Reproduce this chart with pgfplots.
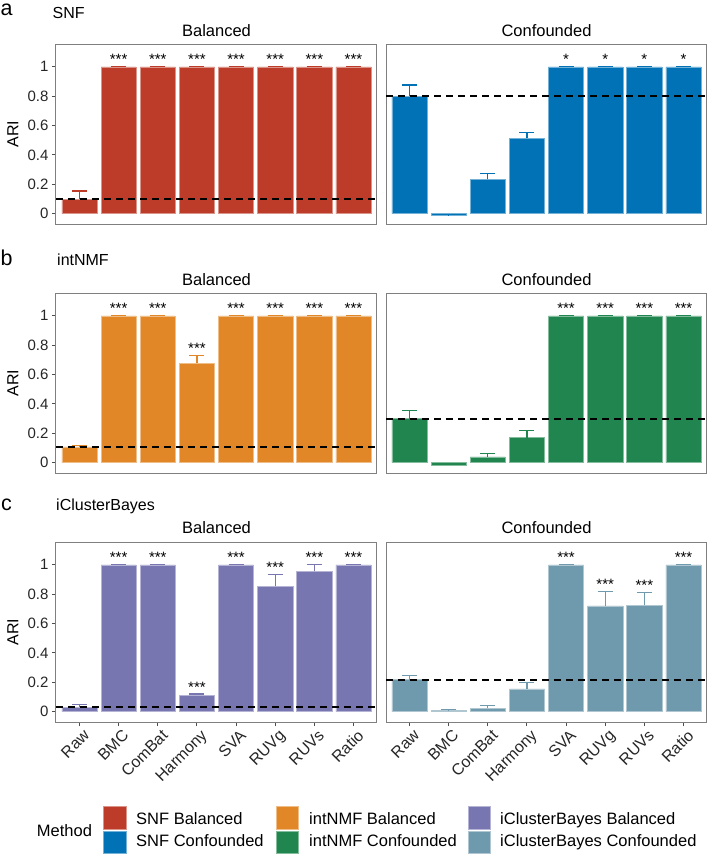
\documentclass[border=0pt]{standalone}
\usepackage{fontspec}
\setmainfont{Liberation Sans}
\usepackage{pgfplots}
\pgfplotsset{compat=1.18}
\definecolor{snfB}{HTML}{BC3C29}
\definecolor{snfC}{HTML}{0072B5}
\definecolor{intB}{HTML}{E18727}
\definecolor{intC}{HTML}{20854E}
\definecolor{icbB}{HTML}{7876B1}
\definecolor{icbC}{HTML}{6F99AD}
\definecolor{frame}{HTML}{7F7F7F}
\definecolor{tickc}{HTML}{4D4D4D}
\newcommand{\fs}[1]{\fontsize{#1}{#1}\selectfont}

\pgfplotsset{
  panel/.style={
    scale only axis, width=321pt, height=180pt, anchor=south west,
    xmin=-0.6, xmax=7.6, ymin=-0.07, ymax=1.155,
    xtick=\empty, ytick=\empty,
    axis line style={draw=frame, line width=1pt},
    tick align=outside, major tick length=4pt,
    tick style={draw=tickc, line width=1pt},
    xtick pos=bottom, ytick pos=left,
    /pgf/number format/assume math mode=true,
    ticklabel style={font=\fs{15}, text=black!85},
    clip=false,
  },
  lefty/.style={ytick={0,0.2,0.4,0.6,0.8,1}, ylabel={ARI},
    every axis y label/.style={at={(axis description cs:-0.134,0.5)}, rotate=90, anchor=center, font=\fs{16}}},
  bottomx/.style={xtick={0,1,2,3,4,5,6,7},
    xticklabels={Raw,BMC,ComBat,Harmony,SVA,RUVg,RUVs,Ratio},
    xticklabel style={xshift=3pt, yshift=-1pt, rotate=45, anchor=north east, inner sep=1pt, font=\fs{16}}},
  bars/.style={ybar, bar width=0.9, fill=#1, draw=#1!55!white, line width=0.5pt,
    error bars/y dir=plus, error bars/y explicit,
    error bars/error bar style={draw=#1, line width=1.3pt},
    error bars/error mark options={rotate=90, mark size=7.5pt, draw=#1, line width=1.3pt}},
  ref/.style={black, line width=1.8pt, dash pattern=on 7pt off 5pt},
  stars/.style={draw=none, mark=none, nodes near coords, point meta=explicit symbolic,
    every node near coord/.append style={font=\fs{15}, anchor=base, yshift=2pt, inner sep=0pt, text=black}},
}

\begin{document}
\begin{tikzpicture}
\useasboundingbox (0,0) rectangle (708pt,-855pt);

% ---- row labels and strips
\node[anchor=base west, font=\fs{21.5}, inner sep=0pt] at (0.5pt,-15pt) {a};
\node[anchor=base west, font=\fs{16}, inner sep=0pt] at (52.5pt,-18.7pt) {SNF};
\node[anchor=base west, font=\fs{21.5}, inner sep=0pt] at (0.5pt,-265pt) {b};
\node[anchor=base west, font=\fs{16}, inner sep=0pt] at (57pt,-265pt) {intNMF};
\node[anchor=base west, font=\fs{21.5}, inner sep=0pt] at (1pt,-510pt) {c};
\node[anchor=base west, font=\fs{16}, inner sep=0pt] at (56pt,-510pt) {iClusterBayes};
\foreach \yb in {36,285,533.3}{
  \node[anchor=base, font=\fs{16.5}, inner sep=0pt] at (216.5pt,-\yb pt) {Balanced};
  \node[anchor=base, font=\fs{16.5}, inner sep=0pt] at (546.5pt,-\yb pt) {Confounded};
}

% ---- row a: SNF
\begin{axis}[panel, lefty, at={(56pt,-224pt)}]
\addplot[bars=snfB] coordinates {(0,0.098) +- (0,0.056) (1,1) +- (0,0.003) (2,1) +- (0,0.003) (3,1) +- (0,0.003)
  (4,1) +- (0,0.003) (5,1) +- (0,0.003) (6,1) +- (0,0.003) (7,1) +- (0,0.003)};
\addplot[ref] coordinates {(-0.6,0.098) (7.6,0.098)};
\addplot[stars] coordinates {(1,1.003)[***] (2,1.003)[***] (3,1.003)[***] (4,1.003)[***] (5,1.003)[***] (6,1.003)[***] (7,1.003)[***]};
\end{axis}
\begin{axis}[panel, at={(386pt,-224pt)}]
\addplot[bars=snfC] coordinates {(0,0.80) +- (0,0.075) (1,-0.012) +- (0,0.006) (2,0.234) +- (0,0.038) (3,0.513) +- (0,0.04)
  (4,1) +- (0,0.003) (5,1) +- (0,0.003) (6,1) +- (0,0.003) (7,1) +- (0,0.003)};
\addplot[ref] coordinates {(-0.6,0.80) (7.6,0.80)};
\addplot[stars] coordinates {(4,1.003)[*] (5,1.003)[*] (6,1.003)[*] (7,1.003)[*]};
\end{axis}

% ---- row b: intNMF
\begin{axis}[panel, lefty, at={(56pt,-473pt)}]
\addplot[bars=intB] coordinates {(0,0.107) +- (0,0.008) (1,1) +- (0,0.003) (2,1) +- (0,0.003) (3,0.677) +- (0,0.053)
  (4,1) +- (0,0.003) (5,1) +- (0,0.003) (6,1) +- (0,0.003) (7,1) +- (0,0.003)};
\addplot[ref] coordinates {(-0.6,0.107) (7.6,0.107)};
\addplot[stars] coordinates {(1,1.003)[***] (2,1.003)[***] (3,0.730)[***] (4,1.003)[***] (5,1.003)[***] (6,1.003)[***] (7,1.003)[***]};
\end{axis}
\begin{axis}[panel, at={(386pt,-473pt)}]
\addplot[bars=intC] coordinates {(0,0.30) +- (0,0.057) (1,-0.015) +- (0,0.006) (2,0.039) +- (0,0.022) (3,0.17) +- (0,0.05)
  (4,1) +- (0,0.003) (5,1) +- (0,0.003) (6,1) +- (0,0.003) (7,1) +- (0,0.003)};
\addplot[ref] coordinates {(-0.6,0.30) (7.6,0.30)};
\addplot[stars] coordinates {(4,1.003)[***] (5,1.003)[***] (6,1.003)[***] (7,1.003)[***]};
\end{axis}

% ---- row c: iClusterBayes
\begin{axis}[panel, lefty, bottomx, at={(56pt,-722pt)}]
\addplot[bars=icbB] coordinates {(0,0.032) +- (0,0.018) (1,1) +- (0,0.003) (2,1) +- (0,0.003) (3,0.111) +- (0,0.009)
  (4,1) +- (0,0.003) (5,0.855) +- (0,0.077) (6,0.955) +- (0,0.045) (7,1) +- (0,0.003)};
\addplot[ref] coordinates {(-0.6,0.032) (7.6,0.032)};
\addplot[stars] coordinates {(1,1.003)[***] (2,1.003)[***] (3,0.120)[***] (4,1.003)[***] (5,0.932)[***] (6,1.0)[***] (7,1.003)[***]};
\end{axis}
\begin{axis}[panel, bottomx, at={(386pt,-722pt)}]
\addplot[bars=icbC] coordinates {(0,0.218) +- (0,0.027) (1,0.011) +- (0,0.004) (2,0.025) +- (0,0.018) (3,0.156) +- (0,0.044)
  (4,1) +- (0,0.003) (5,0.72) +- (0,0.10) (6,0.725) +- (0,0.085) (7,1) +- (0,0.003)};
\addplot[ref] coordinates {(-0.6,0.218) (7.6,0.218)};
\addplot[stars] coordinates {(4,1.003)[***] (5,0.82)[***] (6,0.81)[***] (7,1.003)[***]};
\end{axis}

% ---- legend
\node[anchor=base west, font=\fs{16.5}, inner sep=0pt] at (36.7pt,-836.7pt) {Method};
\foreach \kx/\tx/\ca/\cb/\la/\lb in {103.3/136/snfB/snfC/SNF Balanced/SNF Confounded,
    276/309/intB/intC/intNMF Balanced/intNMF Confounded,
    468/500/icbB/icbC/iClusterBayes Balanced/iClusterBayes Confounded}{
  \filldraw[fill=\ca, draw=\ca!55!white, line width=0.5pt] (\kx pt,-806.7pt) rectangle ++(22.7pt,-22.6pt);
  \filldraw[fill=\cb, draw=\cb!55!white, line width=0.5pt] (\kx pt,-831pt) rectangle ++(22.7pt,-22.3pt);
  \node[anchor=base west, font=\fs{16.5}, inner sep=0pt] at (\tx pt,-824.3pt) {\la};
  \node[anchor=base west, font=\fs{16.5}, inner sep=0pt] at (\tx pt,-846.7pt) {\lb};
}
\end{tikzpicture}
\end{document}
